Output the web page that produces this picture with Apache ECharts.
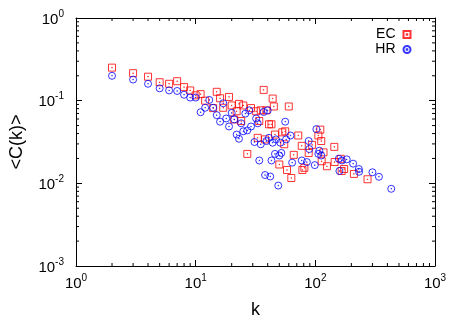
<!DOCTYPE html>
<html>
<head>
<meta charset="utf-8">
<script src="https://cdn.jsdelivr.net/npm/echarts@6/dist/echarts.min.js"></script>
<style>
  html, body { margin: 0; padding: 0; background: #fff; }
  #chart { width: 463px; height: 324px; }
</style>
</head>
<body>
<div id="chart"></div>
<script>
// EC series (red squares)
const ecK = [2, 3, 4, 5, 6, 7, 8, 9, 10, 11, 12, 14, 15, 16, 17, 19, 20, 21, 22, 23, 24, 25, 27, 29, 32, 33, 34, 35, 37, 38, 39, 41, 43, 44, 45, 46, 50, 53, 55, 56, 58, 60, 63, 66, 72, 77, 78, 81, 88, 94, 106, 110, 112, 113, 117, 125, 144, 145, 163, 166, 174, 210, 273];
const ecC = [0.251, 0.215, 0.195, 0.167, 0.160, 0.172, 0.146, 0.133, 0.116, 0.120, 0.100, 0.0813, 0.128, 0.107, 0.0820, 0.111, 0.0875, 0.0593, 0.0745, 0.0914, 0.0567, 0.0875, 0.0227, 0.0813, 0.0745, 0.0355, 0.0567, 0.0764, 0.135, 0.0340, 0.0764, 0.0518, 0.0518, 0.106, 0.0851, 0.0389, 0.0169, 0.0414, 0.0297, 0.0426, 0.0145, 0.0851, 0.0116, 0.0221, 0.0379, 0.0284, 0.0145, 0.0154, 0.0233, 0.0292, 0.0379, 0.0446, 0.0325, 0.0185, 0.0237, 0.0161, 0.0276, 0.0181, 0.0198, 0.0141, 0.0149, 0.0130, 0.0112];

// HR series (blue circles)
const hrK = [2, 3, 4, 5, 6, 7, 8, 9, 10, 11, 12, 13, 14, 15, 16, 17, 18, 19, 20, 21, 22, 23, 24, 25, 26, 27, 28, 29, 31, 32, 33, 34, 35, 37, 38, 39, 40, 41, 42, 43, 44, 46, 47, 49, 50, 51, 52, 56, 57, 62, 64, 77, 85, 88, 89, 99, 102, 106, 108, 112, 157, 159, 167, 183, 207, 231, 232, 300, 340, 431];
const hrC = [0.200, 0.180, 0.160, 0.141, 0.133, 0.131, 0.118, 0.109, 0.109, 0.0725, 0.0820, 0.102, 0.0820, 0.0668, 0.0557, 0.0931, 0.0609, 0.0487, 0.0711, 0.0593, 0.0389, 0.0346, 0.0532, 0.0426, 0.0697, 0.0437, 0.0764, 0.0487, 0.0316, 0.0609, 0.0532, 0.0189, 0.0297, 0.0730, 0.0126, 0.0325, 0.0764, 0.0355, 0.0121, 0.0189, 0.0310, 0.0227, 0.0340, 0.00939, 0.0217, 0.0310, 0.0233, 0.0557, 0.0340, 0.0379, 0.0178, 0.0189, 0.0181, 0.0325, 0.0260, 0.0166, 0.0453, 0.0227, 0.0248, 0.0217, 0.0198, 0.0141, 0.0189, 0.0195, 0.0173, 0.0149, 0.0138, 0.0136, 0.0120, 0.00859];

// minor tick values (log axes)
const xMinor = [2, 3, 4, 5, 6, 7, 8, 9, 20, 30, 40, 50, 60, 70, 80, 90, 200, 300, 400, 500, 600, 700, 800, 900];
const yMinor = [0.002, 0.003, 0.004, 0.005, 0.006, 0.007, 0.008, 0.009, 0.02, 0.03, 0.04, 0.05, 0.06, 0.07, 0.08, 0.09, 0.2, 0.3, 0.4, 0.5, 0.6, 0.7, 0.8, 0.9];

const FONT = 'Liberation Sans, Arial, Helvetica, sans-serif';
const squareSym = 'path://M0,0H10V10H0ZM4.6,4.6H5.4V5.4H4.6Z';
const circleSym = 'path://M0,5A5,5,0,1,0,10,5A5,5,0,1,0,0,5ZM4.6,4.6H5.4V5.4H4.6Z';

function powLabel(v) {
    const e = Math.round(Math.log10(v));
    return '{a|10}{b|' + e + '}';
}
const labelRich = {
    a: {fontSize: 15, fontFamily: FONT, color: '#000', verticalAlign: 'bottom'},
    b: {fontSize: 10, fontFamily: FONT, color: '#000', verticalAlign: 'bottom', padding: [0, 0, 8, 0]}
};

const pairs = (ks, cs) => ks.map((k, i) => [k, cs[i]]);

function minorTicks(horizontal) {
    return function (params, api) {
        const cs = params.coordSys;
        const len = 3;
        if (horizontal) {
            const x = api.coord([api.value(0), 0.01])[0];
            return {type: 'group', children: [
                {type: 'line', shape: {x1: x, y1: cs.y + cs.height, x2: x, y2: cs.y + cs.height - len}, style: {stroke: '#000', lineWidth: 1}},
                {type: 'line', shape: {x1: x, y1: cs.y, x2: x, y2: cs.y + len}, style: {stroke: '#000', lineWidth: 1}}
            ]};
        }
        const y = api.coord([10, api.value(0)])[1];
        return {type: 'group', children: [
            {type: 'line', shape: {x1: cs.x, y1: y, x2: cs.x + len, y2: y}, style: {stroke: '#000', lineWidth: 1}},
            {type: 'line', shape: {x1: cs.x + cs.width, y1: y, x2: cs.x + cs.width - len, y2: y}, style: {stroke: '#000', lineWidth: 1}}
        ]};
    };
}

const axisLine = {show: true, lineStyle: {color: '#000', width: 1}};
const majorTick = {show: true, inside: true, length: 6, lineStyle: {color: '#000'}};

const option = {
    animation: false,
    grid: {left: 66.5, right: 28, top: 18, bottom: 50},
    legend: {
        orient: 'vertical',
        align: 'right',
        right: 45,
        top: 22,
        itemWidth: 7,
        itemHeight: 7,
        itemGap: 0,
        textStyle: {fontSize: 14, lineHeight: 15, fontFamily: FONT, color: '#000', padding: [0, 3, 0, 0]},
        data: ['EC', 'HR']
    },
    xAxis: [{
        type: 'log', logBase: 10, min: 1, max: 1000,
        position: 'bottom',
        axisLine: axisLine, axisTick: majorTick,
        splitLine: {show: false},
        axisLabel: {formatter: powLabel, rich: labelRich, margin: 7},
        name: 'k', nameLocation: 'middle', nameGap: 35,
        nameTextStyle: {fontSize: 18, fontFamily: FONT, color: '#000'}
    }, {
        type: 'log', logBase: 10, min: 1, max: 1000,
        position: 'top',
        axisLine: axisLine, axisTick: majorTick,
        splitLine: {show: false}, axisLabel: {show: false}
    }],
    yAxis: [{
        type: 'log', logBase: 10, min: 0.001, max: 1,
        position: 'left',
        axisLine: axisLine, axisTick: majorTick,
        splitLine: {show: false},
        axisLabel: {formatter: powLabel, rich: labelRich, margin: 12},
        name: '<C(k)>', nameLocation: 'middle', nameGap: 50, nameRotate: 90,
        nameTextStyle: {fontSize: 18, fontFamily: FONT, color: '#000'}
    }, {
        type: 'log', logBase: 10, min: 0.001, max: 1,
        position: 'right',
        axisLine: axisLine, axisTick: majorTick,
        splitLine: {show: false}, axisLabel: {show: false}
    }],
    series: [
        {
            type: 'custom', silent: true, xAxisIndex: 0, yAxisIndex: 0,
            renderItem: minorTicks(true), data: xMinor.map(v => [v]),
            encode: {x: 0}
        },
        {
            type: 'custom', silent: true, xAxisIndex: 0, yAxisIndex: 0,
            renderItem: minorTicks(false), data: yMinor.map(v => [v]),
            encode: {y: 0}
        },
        {
            name: 'EC', type: 'scatter', xAxisIndex: 0, yAxisIndex: 0,
            symbol: squareSym, symbolSize: 7,
            itemStyle: {color: 'none', borderColor: '#ff0000', borderWidth: 1},
            emphasis: {disabled: true},
            data: pairs(ecK, ecC)
        },
        {
            name: 'HR', type: 'scatter', xAxisIndex: 0, yAxisIndex: 0,
            symbol: circleSym, symbolSize: 7,
            itemStyle: {color: 'none', borderColor: '#0000ff', borderWidth: 1},
            emphasis: {disabled: true},
            data: pairs(hrK, hrC)
        }
    ]
};

const myChart = echarts.init(document.getElementById('chart'));
myChart.setOption(option);
</script>
</body>
</html>
